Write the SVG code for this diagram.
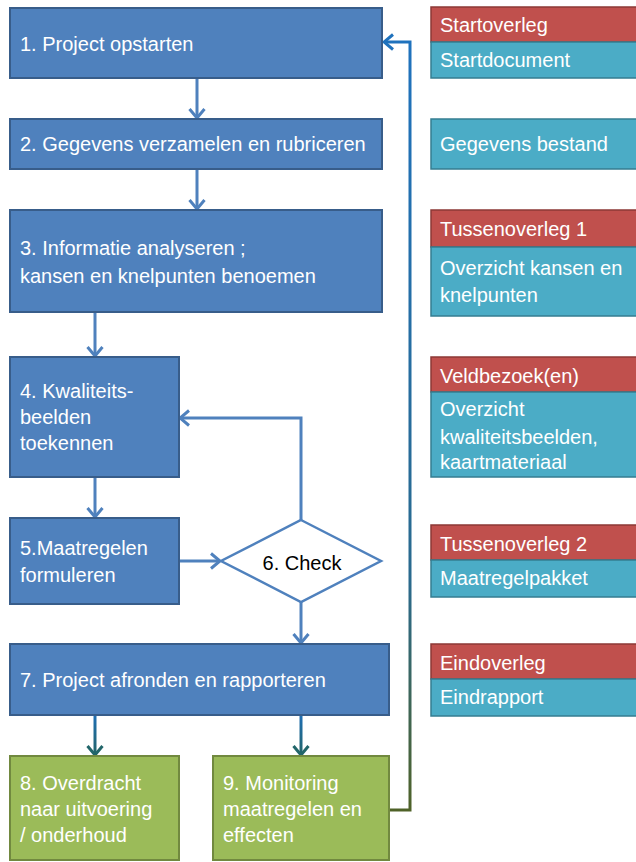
<svg xmlns="http://www.w3.org/2000/svg" width="636" height="862" viewBox="0 0 636 862">
<style>
.blue{fill:#4f81bd;stroke:#385d8a;stroke-width:2}
.green{fill:#9bbb59;stroke:#71893f;stroke-width:2}
.red{fill:#c0504d;stroke:#8c3836;stroke-width:1.5}
.teal{fill:#4bacc6;stroke:#357d91;stroke-width:1.5}
text{font-family:"Liberation Sans",Arial,sans-serif;font-size:20px;fill:#ffffff}
.dark{fill:#000000}
.conn{fill:none;stroke:#4f81bd;stroke-width:3}
</style>
<defs>
<marker id="ab" viewBox="0 0 12 18" markerWidth="12" markerHeight="18" refX="10.5" refY="9" orient="auto" markerUnits="userSpaceOnUse"><path d="M1.5,1.5 L10.5,9 L1.5,16.5" fill="none" stroke="#4f81bd" stroke-width="3"/></marker>
<marker id="at" viewBox="0 0 12 18" markerWidth="12" markerHeight="18" refX="10.5" refY="9" orient="auto" markerUnits="userSpaceOnUse"><path d="M1.5,1.5 L10.5,9 L1.5,16.5" fill="none" stroke="#22666a" stroke-width="3"/></marker>
<marker id="af" viewBox="0 0 12 18" markerWidth="12" markerHeight="18" refX="10.5" refY="9" orient="auto" markerUnits="userSpaceOnUse"><path d="M1.5,1.5 L10.5,9 L1.5,16.5" fill="none" stroke="#1f72bd" stroke-width="3"/></marker>
<linearGradient id="gt" gradientUnits="userSpaceOnUse" x1="0" y1="715" x2="0" y2="756"><stop offset="0" stop-color="#1f6fb5"/><stop offset="1" stop-color="#236466"/></linearGradient>
<linearGradient id="gf" gradientUnits="userSpaceOnUse" x1="0" y1="42" x2="0" y2="810"><stop offset="0" stop-color="#1f72bd"/><stop offset="0.7" stop-color="#2a6a8e"/><stop offset="1" stop-color="#4f6228"/></linearGradient>
</defs>

<g id="connectors">
<line class="conn" x1="197" y1="78" x2="197" y2="118" marker-end="url(#ab)"/>
<line class="conn" x1="197" y1="169" x2="197" y2="209" marker-end="url(#ab)"/>
<line class="conn" x1="95" y1="312" x2="95" y2="356" marker-end="url(#ab)"/>
<line class="conn" x1="95" y1="477" x2="95" y2="517" marker-end="url(#ab)"/>
<line class="conn" x1="179" y1="561" x2="220" y2="561" marker-end="url(#ab)"/>
<polyline class="conn" points="301,520 301,418 180,418" marker-end="url(#ab)"/>
<line class="conn" x1="301" y1="602" x2="301" y2="643" marker-end="url(#ab)"/>
<line x1="95" y1="715" x2="95" y2="755" stroke="url(#gt)" stroke-width="3" marker-end="url(#at)"/>
<line x1="301" y1="715" x2="301" y2="755" stroke="url(#gt)" stroke-width="3" marker-end="url(#at)"/>
<polyline points="389,810 410,810 410,42 384,42" fill="none" stroke="url(#gf)" stroke-width="3" marker-end="url(#af)"/>
</g>

<g id="n1"><rect class="blue" x="10" y="8" width="372" height="70"/><text x="20" y="51">1. Project opstarten</text></g>
<g id="n2"><rect class="blue" x="10" y="119" width="372" height="50"/><text x="20" y="151">2. Gegevens verzamelen en rubriceren</text></g>
<g id="n3"><rect class="blue" x="10" y="210" width="372" height="102"/><text x="20" y="255">3. Informatie analyseren ;</text><text x="20" y="283">kansen en knelpunten benoemen</text></g>
<g id="n4"><rect class="blue" x="10" y="357" width="169" height="120"/><text x="20" y="398">4. Kwaliteits-</text><text x="20" y="424">beelden</text><text x="20" y="450">toekennen</text></g>
<g id="n5"><rect class="blue" x="10" y="518" width="169" height="86"/><text x="20" y="555">5.Maatregelen</text><text x="20" y="582">formuleren</text></g>
<g id="n6"><polygon points="301,520 381,561 301,602 221,561" fill="#ffffff" stroke="#4f81bd" stroke-width="2.5"/><text class="dark" x="302" y="570" text-anchor="middle">6. Check</text></g>
<g id="n7"><rect class="blue" x="10" y="644" width="379" height="71"/><text x="20" y="687">7. Project afronden en rapporteren</text></g>
<g id="n8"><rect class="green" x="10" y="756" width="169" height="104"/><text x="20" y="790">8. Overdracht</text><text x="20" y="816">naar uitvoering</text><text x="20" y="842">/ onderhoud</text></g>
<g id="n9"><rect class="green" x="213" y="756" width="176" height="104"/><text x="223" y="790">9. Monitoring</text><text x="223" y="816">maatregelen en</text><text x="223" y="842">effecten</text></g>

<g id="r1"><rect class="red" x="431" y="7" width="210" height="35"/><rect class="teal" x="431" y="42" width="210" height="36"/><text x="440" y="32">Startoverleg</text><text x="440" y="67">Startdocument</text></g>
<g id="r2"><rect class="teal" x="431" y="119" width="210" height="50"/><text x="440" y="151">Gegevens bestand</text></g>
<g id="r3"><rect class="red" x="431" y="210" width="210" height="37"/><rect class="teal" x="431" y="247" width="210" height="69"/><text x="440" y="236">Tussenoverleg 1</text><text x="440" y="275">Overzicht kansen en</text><text x="440" y="302">knelpunten</text></g>
<g id="r4"><rect class="red" x="431" y="357" width="210" height="35"/><rect class="teal" x="431" y="392" width="210" height="85"/><text x="440" y="383">Veldbezoek(en)</text><text x="440" y="416">Overzicht</text><text x="440" y="444">kwaliteitsbeelden,</text><text x="440" y="469">kaartmateriaal</text></g>
<g id="r5"><rect class="red" x="431" y="525" width="210" height="35"/><rect class="teal" x="431" y="560" width="210" height="37"/><text x="440" y="551">Tussenoverleg 2</text><text x="440" y="585">Maatregelpakket</text></g>
<g id="r6"><rect class="red" x="431" y="644" width="210" height="35"/><rect class="teal" x="431" y="679" width="210" height="37"/><text x="440" y="670">Eindoverleg</text><text x="440" y="704">Eindrapport</text></g>
</svg>
